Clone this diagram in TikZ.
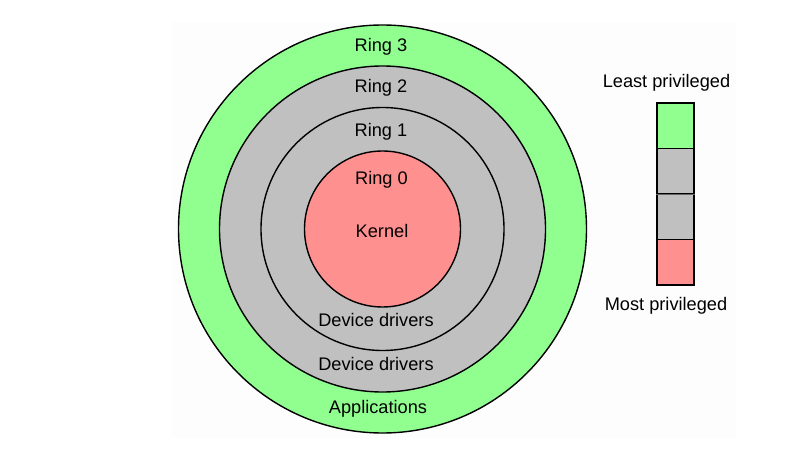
\documentclass[tikz,border=0pt]{standalone}
\usepackage{fontspec}
\setmainfont{Liberation Sans}
\begin{document}
\begin{tikzpicture}[x=1pt,y=-1pt,
  ring/.style={circle,draw=black,line width=1.4pt,inner sep=0pt},
  lbl/.style={font=\fontsize{18.2}{21}\selectfont,inner sep=0pt,anchor=base},
  seg/.style={draw=black,line width=1.4pt,minimum width=37pt,minimum height=45.5pt,inner sep=0pt}]
\definecolor{ringgreen}{HTML}{90FF90}
\definecolor{ringgray}{HTML}{C0C0C0}
\definecolor{ringred}{HTML}{FF9090}
% canvas
\fill[white] (0,0) rectangle (806,457);
\useasboundingbox (0,0) rectangle (806,457);
\fill[black!0.7] (172,22) rectangle (736,438);
% concentric protection rings
\node[ring,fill=ringgreen,minimum size=408pt] (r3) at (382.5,229) {};
\node[ring,fill=ringgray,minimum size=326pt] (r2) at (382.5,229) {};
\node[ring,fill=ringgray,minimum size=243pt] (r1) at (382.5,229) {};
\node[ring,fill=ringred,minimum size=156pt] (r0) at (382.5,229) {};
% ring labels (placed on their baselines)
\node[lbl] (t3) at (381,52) {Ring 3};
\node[lbl] (t2) at (381,93) {Ring 2};
\node[lbl] (t1) at (381,137) {Ring 1};
\node[lbl] (t0) at (381.5,185) {Ring 0};
\node[lbl] (kern) at (382,237) {Kernel};
\node[lbl] (dd1) at (376,326) {Device drivers};
\node[lbl] (dd2) at (376,370) {Device drivers};
\node[lbl] (apps) at (378,413) {Applications};
% privilege scale
\node[seg,fill=ringgreen] (s3) at (675.5,125.75) {};
\node[seg,fill=ringgray] (s2) at (675.5,171.25) {};
\node[seg,fill=ringgray] (s1) at (675.5,216.75) {};
\node[seg,fill=ringred] (s0) at (675.5,262.25) {};
\draw[line width=1.4pt,draw=black!60] (s2.south west) -- (s2.south east);
\node[lbl] (least) at (666.5,88) {Least privileged};
\node[lbl] (most) at (666,310) {Most privileged};
\end{tikzpicture}
\end{document}
